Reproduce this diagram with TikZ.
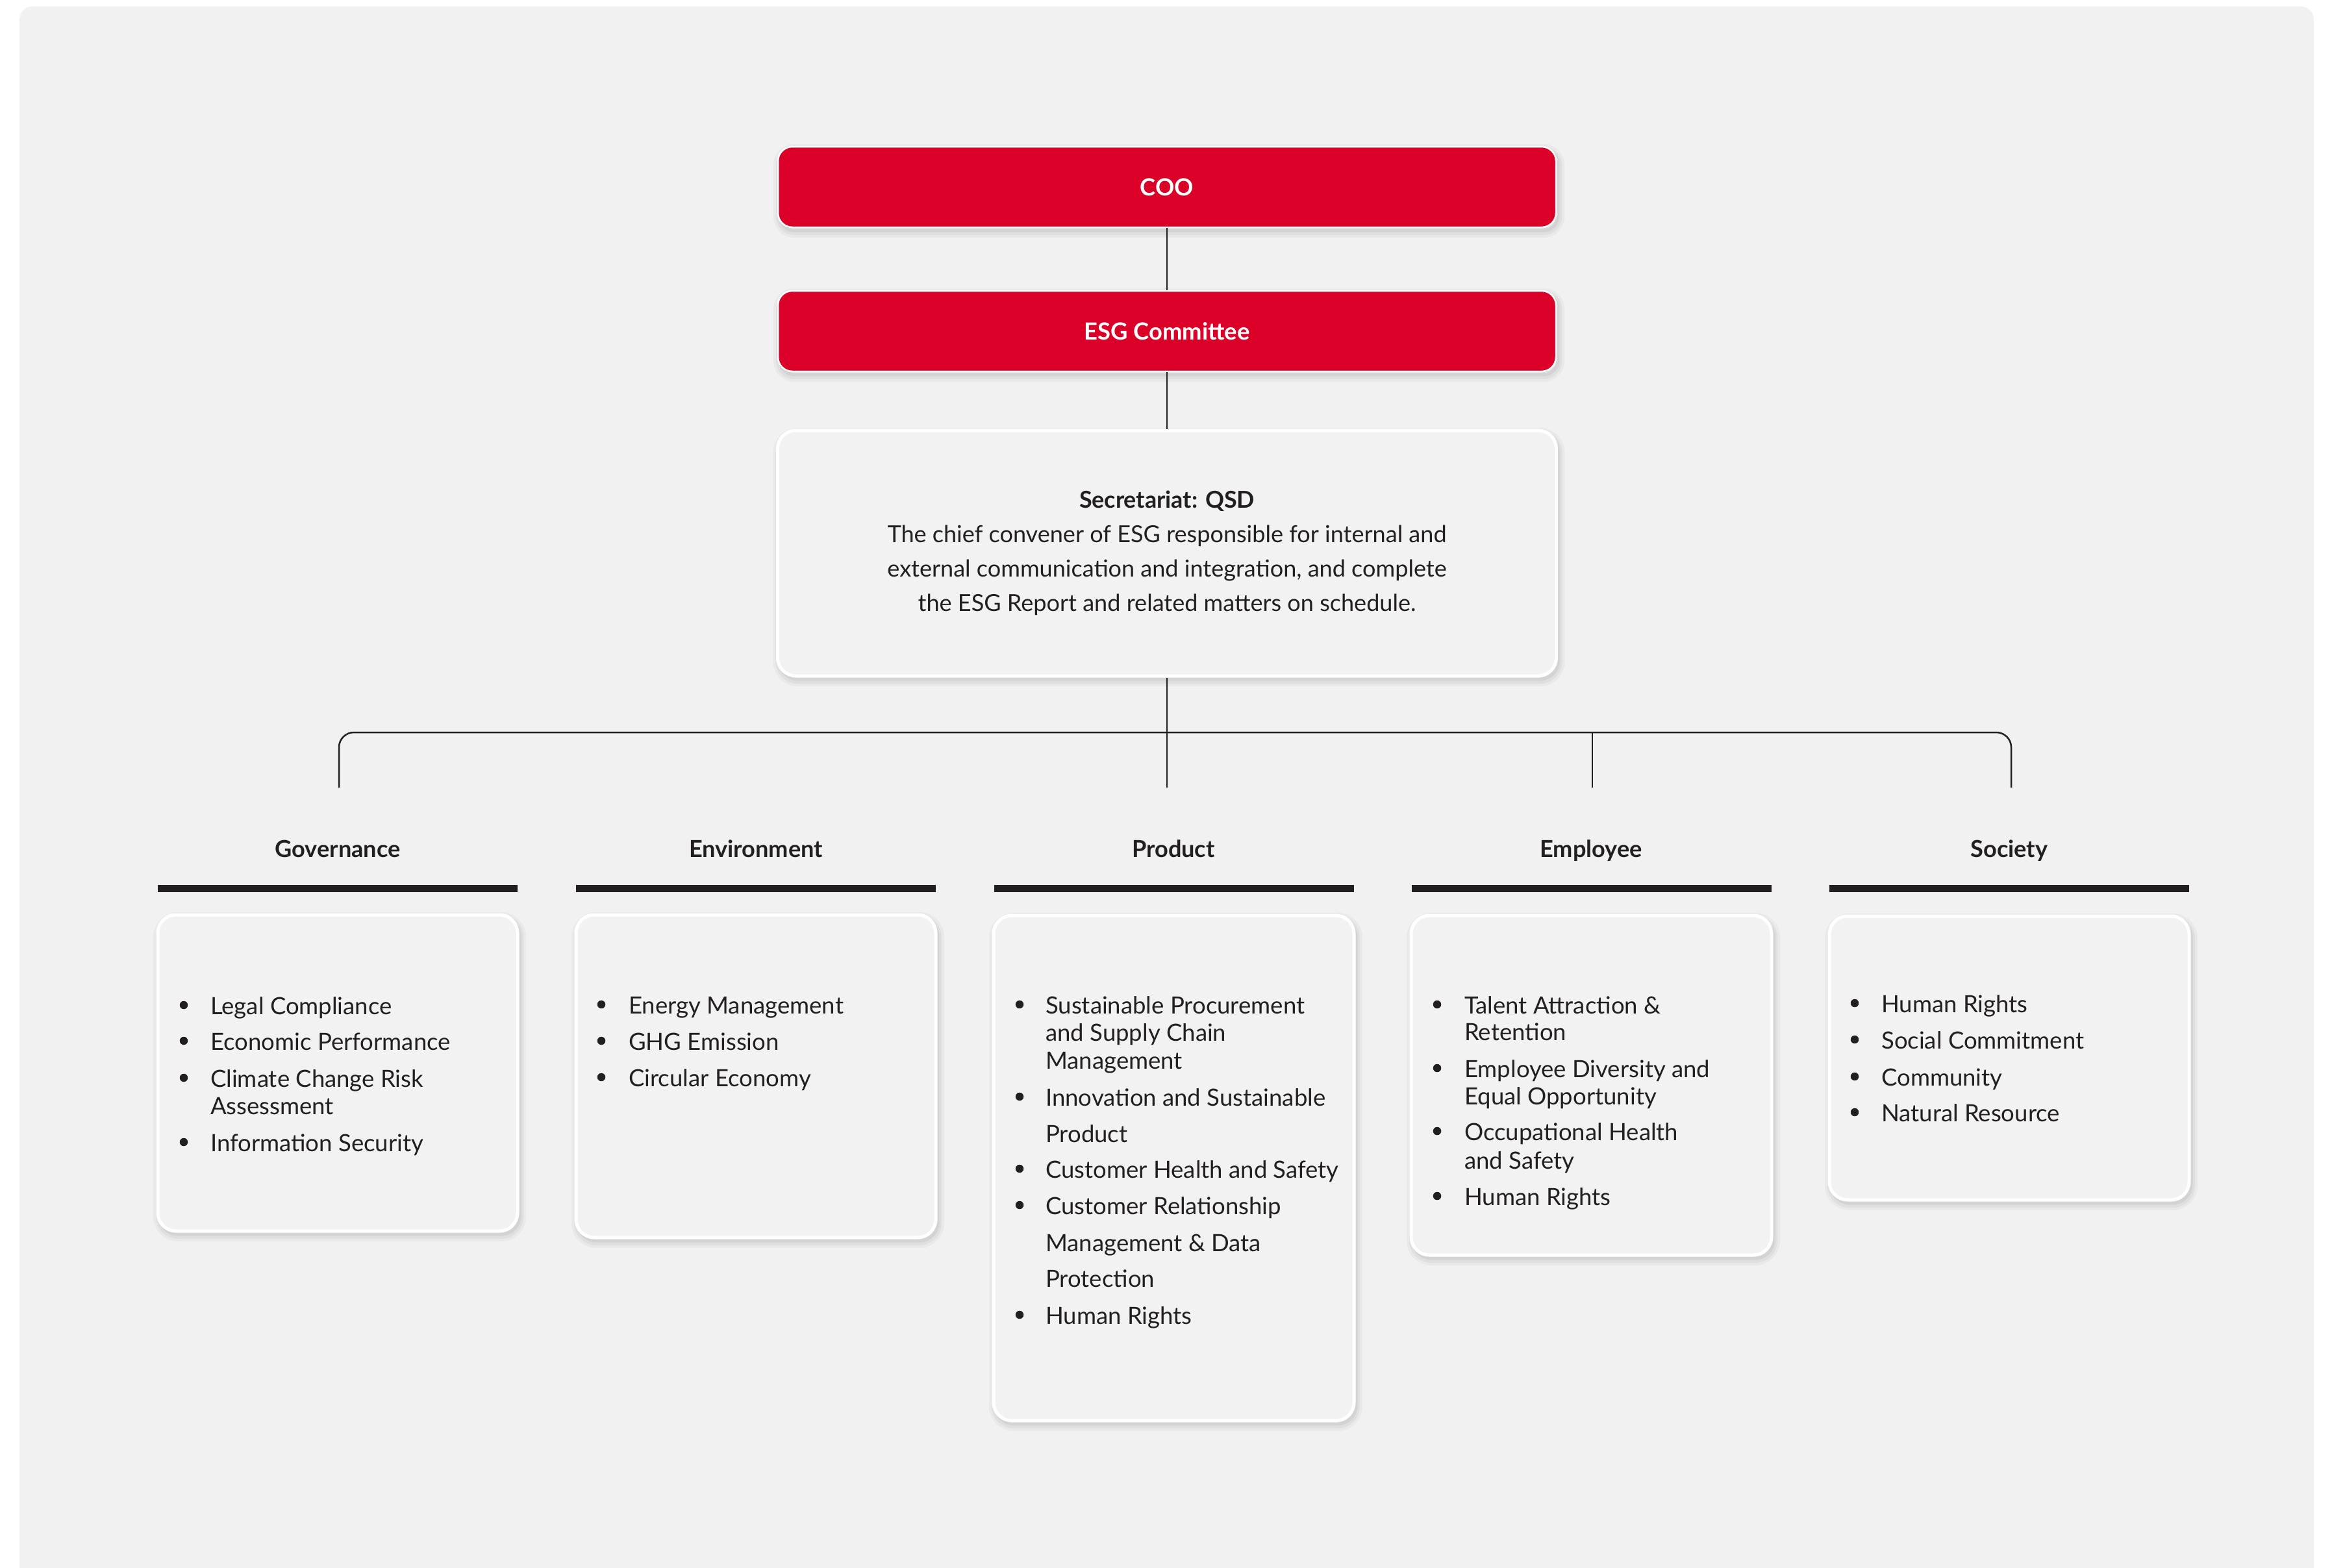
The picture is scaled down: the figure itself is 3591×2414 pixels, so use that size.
\documentclass[tikz,border=0pt]{standalone}
\usepackage{fontspec}
\setmainfont{Lato}
\definecolor{panelbg}{HTML}{F1F1F1}
\definecolor{cardbg}{HTML}{F2F2F2}
\definecolor{esgred}{HTML}{DA0028}
\definecolor{ink}{HTML}{231F20}

\newlength\calw
\newcommand\calsize[4]{%
  \settowidth\calw{\fontsize{10pt}{12pt}\selectfont#2{}#3}%
  \pgfmathsetmacro#1{10*#4/\calw}}

\tikzset{
  softshadow/.style={
    preaction={draw=black, fill=none, draw opacity=0.03, line width=20pt, transform canvas={xshift=3pt,yshift=-6pt}},
    preaction={draw=black, fill=none, draw opacity=0.04, line width=12pt, transform canvas={xshift=3pt,yshift=-6pt}},
    preaction={draw=black, fill=none, draw opacity=0.05, line width=5pt, transform canvas={xshift=3pt,yshift=-5pt}}},
  card/.style={rectangle, rounded corners=28pt, fill=cardbg, draw=white, line width=5pt, softshadow, inner sep=0pt},
  redbox/.style={rectangle, rounded corners=22pt, fill=esgred, draw=white, line width=2.5pt, softshadow,
    minimum width=1198pt, minimum height=124pt, inner sep=0pt, text=white,
    font=\fontsize{\szred pt}{\szred pt}\selectfont\bfseries},
  bar/.style={rectangle, fill=ink, draw=none, inner sep=0pt, minimum height=11pt, minimum width=554pt},
  head/.style={inner sep=0pt, text=ink, anchor=base, font=\fontsize{\szhead pt}{\szhead pt}\selectfont\bfseries},
  itemtext/.style={inner sep=0pt, text=ink, anchor=base west, font=\fontsize{\szbody pt}{\szbody pt}\selectfont},
  bullet/.style={circle, fill=ink, draw=none, inner sep=0pt, minimum size=12.5pt},
  conn/.style={draw=ink, line width=2.5pt},
}

\newcommand\itemlist[4]{%
  \foreach \yy/\bb/\itx [count=\k] in {#4} {%
    \node[itemtext] (#1t\k) at (#3,\yy+14) {\itx};
    \ifnum\bb=1 \node[bullet] (#1b\k) at (#2,\yy) {};\fi
  }}

\begin{document}
\calsize\szbody{}{Social Commitment}{312}%
\calsize\szsec{}{The chief convener of ESG responsible for internal and}{861}%
\calsize\sztitle{\bfseries}{Secretariat: QSD}{270}%
\calsize\szhead{\bfseries}{Governance}{193}%
\calsize\szred{\bfseries}{ESG Committee}{255}%
\begin{tikzpicture}[x=1pt,y=-1pt]
\useasboundingbox (0,0) rectangle (3591,2414);
\fill[panelbg, rounded corners=20pt] (30,2500) rectangle (3563,10);

% top chain
\node[redbox] (coo) at (1797,288) {COO};
\node[redbox] (esg) at (1797,510) {ESG Committee};
\node[card, rounded corners=28pt, minimum width=1199pt, minimum height=378pt, align=center, text=ink,
      font=\fontsize{\szsec pt}{53pt}\selectfont] (sec) at (1797,852)
  {{\fontsize{\sztitle pt}{53pt}\selectfont\bfseries Secretariat: QSD}\\
   The chief convener of ESG responsible for internal and\\
   external communication and integration, and complete\\
   the ESG Report and related matters on schedule.};

% column headers and bars
\node[head] (hgov) at (520,1320) {Governance};
\node[head] (henv) at (1164,1320) {Environment};
\node[head] (hprod) at (1807,1320) {Product};
\node[head] (hemp) at (2450,1320) {Employee};
\node[head] (hsoc) at (3094,1320) {Society};

\node[bar] (bgov) at (520,1368.5) {};
\node[bar] (benv) at (1164,1368.5) {};
\node[bar] (bprod) at (1807.5,1368.5) {};
\node[bar] (bemp) at (2450.5,1368.5) {};
\node[bar] (bsoc) at (3094,1368.5) {};

% cards
\node[card, minimum width=554pt, minimum height=487pt] (gov) at (520,1652.5) {};
\node[card, minimum width=554pt, minimum height=497pt] (env) at (1164,1657.5) {};
\node[card, minimum width=555pt, minimum height=778pt] (prod) at (1807.5,1799) {};
\node[card, minimum width=555pt, minimum height=523pt] (emp) at (2450.5,1671.5) {};
\node[card, minimum width=554pt, minimum height=437pt] (soc) at (3094,1629.5) {};

% lists
\itemlist{g}{283}{324}{1548/1/Legal Compliance, 1603/1/Economic Performance, 1660/1/Climate Change Risk, 1702/0/Assessment, 1759/1/Information Security}
\itemlist{e}{926}{968}{1547/1/Energy Management, 1603/1/GHG Emission, 1659/1/Circular Economy}
\itemlist{p}{1570}{1610}{1547/1/Sustainable Procurement, 1589/0/and Supply Chain, 1632/0/Management, 1689/1/Innovation and Sustainable, 1745/0/Product, 1800/1/Customer Health and Safety, 1856/1/Customer Relationship, 1913/0/Management \& Data, 1968/0/Protection, 2025/1/Human Rights}
\itemlist{m}{2213}{2255}{1547/1/Talent Attraction \&, 1588/0/Retention, 1645/1/Employee Diversity and, 1687/0/Equal Opportunity, 1742/1/Occupational Health, 1786/0/and Safety, 1842/1/Human Rights}
\itemlist{s}{2856}{2897}{1545/1/Human Rights, 1601/1/Social Commitment, 1658/1/Community, 1713/1/Natural Resource}

% connectors
\coordinate (gend) at (522,1213);
\coordinate (pend) at (1797,1213);
\coordinate (mend) at (2452,1213);
\coordinate (send) at (3097,1213);
\coordinate (busL) at (522,1128);
\coordinate (busR) at (3097,1128);

\draw[conn] (coo.south) -- (esg.north);
\draw[conn] (esg.south) -- (sec.north);
\draw[conn] (sec.south) -- (pend);
\draw[conn, rounded corners=23pt] (gend) -- (busL) -- (busR) -- (send);
\draw[conn] (mend) -- (mend |- busL);
\end{tikzpicture}
\end{document}
